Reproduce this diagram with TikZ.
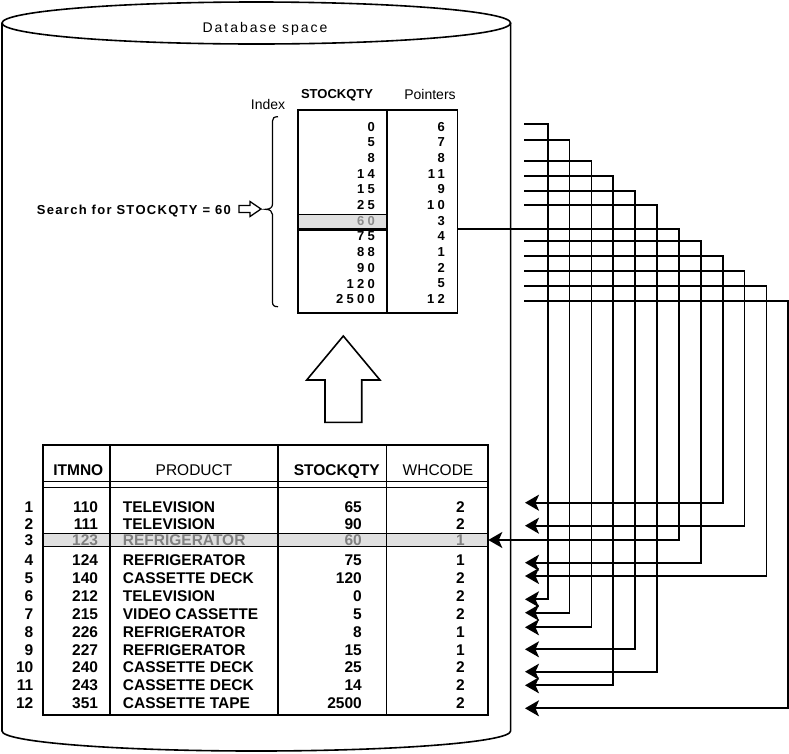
\documentclass[tikz,border=0pt]{standalone}
\usepackage{fontspec}
\setmainfont{Liberation Sans}
\usetikzlibrary{arrows.meta}
\definecolor{hl}{gray}{0.88}
\begin{document}
\begin{tikzpicture}[x=1pt,y=-1pt,
  ln/.style={line width=1.6pt},
  ptrline/.style={line width=1.8pt, arrows={-{Stealth[length=14pt,width=16pt,inset=3.5pt]}}},
  txt/.style={inner sep=0pt, text depth=0pt},
  tbody/.style={txt, font=\fontsize{15.5}{17}\selectfont\bfseries},
  thead/.style={txt, font=\fontsize{15.5}{17}\selectfont},
  theadb/.style={txt, font=\fontsize{15.5}{17}\selectfont\bfseries},
  idx/.style={txt, font=\fontsize{13}{15}\selectfont\bfseries\addfontfeatures{LetterSpace=25}},
]
\useasboundingbox (0,0) rectangle (789,753);

% cylinder
\draw[ln] (256.3,23) ellipse [x radius=254.3, y radius=21];
\draw[ln] (2,23) -- (2,731) arc[start angle=180, end angle=0, x radius=254.3, y radius=20] -- (510.6,23);
\node[txt, font=\fontsize{14}{16}\selectfont\addfontfeatures{LetterSpace=14}] (dbspace) at (265,27) {Database space};

% index box
\fill[hl] (298.3,214.5) rectangle (386.7,229.3);
\draw[line width=0.8pt] (298.3,214.5) -- (386.7,214.5);
\draw[line width=2.5pt] (298.3,229.3) -- (386.7,229.3);
\draw[line width=1.7pt] (298.3,110) rectangle (457.5,313.3);
\draw[line width=1.7pt] (386.7,110) -- (386.7,313.3);
\node[txt, font=\fontsize{13}{15}\selectfont\bfseries] (hstock) at (337,94) {STOCKQTY};
\node[txt, font=\fontsize{14}{16}\selectfont] (hptr) at (430,94) {Pointers};
\node[txt, font=\fontsize{14}{16}\selectfont] (hindex) at (268,104) {Index};
\foreach \k/\v/\pp in {1/0/6, 2/5/7, 3/8/8, 4/14/11, 5/15/9, 6/25/10, 7/60/3, 8/75/4, 9/88/1, 10/90/2, 11/120/5, 12/2500/12}{
  \pgfmathsetmacro{\yy}{126.5+(\k-1)*15.7}
  \ifnum\k=7
    \node[idx, anchor=east, text=black!45] (iv\k) at (375,\yy) {\v};
  \else
    \node[idx, anchor=east] (iv\k) at (375,\yy) {\v};
  \fi
  \node[idx, anchor=east] (ip\k) at (445,\yy) {\pp};
}

% brace and search label
\draw[line width=1.2pt] (278,116.7) .. controls (274,116.7) and (272.5,118) .. (272.5,121) -- (272.5,204)
  .. controls (272.5,207.5) and (270,209.3) .. (265.5,209.3)
  .. controls (270,209.3) and (272.5,211.5) .. (272.5,214.5) -- (272.5,302)
  .. controls (272.5,305.5) and (274,306.7) .. (278,306.7);
\node[txt, anchor=east, font=\fontsize{13}{15}\selectfont\bfseries\addfontfeatures{LetterSpace=10}] (search) at (231,210) {Search for STOCKQTY = 60};
\draw[line width=1.3pt, line join=miter] (239,205.5) -- (250,205.5) -- (250,201.5) -- (261,209) -- (250,216.5) -- (250,212.5) -- (239,212.5) -- cycle;

% big hollow arrow
\draw[line width=1.6pt, line join=miter] (325,422.3) -- (325,380) -- (306.7,380) -- (343.3,336) -- (380,380) -- (361.7,380) -- (361.7,422.3) -- cycle;

% table
\fill[hl] (43.3,533.3) rectangle (488.3,546.7);
\draw[line width=0.7pt] (43.3,533.3) -- (488.3,533.3) (43.3,546.7) -- (488.3,546.7);
\draw[line width=1.7pt] (43.3,445) rectangle (488.3,715);
\draw[line width=1.3pt] (43.3,481.7) -- (488.3,481.7) (43.3,487.3) -- (488.3,487.3);
\draw[line width=1.6pt] (110,445) -- (110,715);
\draw[line width=2.3pt] (277.7,445) -- (277.7,715);
\draw[line width=1.4pt] (386.7,445) -- (386.7,715);
\node[theadb] (titmno) at (78.3,470) {ITMNO};
\node[thead] (tprod) at (194,470) {PRODUCT};
\node[theadb] (tstock) at (336.7,470) {STOCKQTY};
\node[thead] (twh) at (438,470) {WHCODE};
\foreach \r/\it/\pr/\sq/\wh in {1/110/TELEVISION/65/2, 2/111/TELEVISION/90/2, 3/123/REFRIGERATOR/60/1, 4/124/REFRIGERATOR/75/1, 5/140/CASSETTE DECK/120/2, 6/212/TELEVISION/0/2, 7/215/VIDEO CASSETTE/5/2, 8/226/REFRIGERATOR/8/1, 9/227/REFRIGERATOR/15/1, 10/240/CASSETTE DECK/25/2, 11/243/CASSETTE DECK/14/2, 12/351/CASSETTE TAPE/2500/2}{
  \pgfmathsetmacro{\yy}{\r==3 ? 540.5 : 506.7+(\r-1)*17.87}
  \ifnum\r=3 \def\tc{black!50}\else\def\tc{black}\fi
  \node[tbody, anchor=east] (rn\r) at (33.5,\yy) {\r};
  \node[tbody, anchor=east, text=\tc] (ri\r) at (98.3,\yy) {\it};
  \node[tbody, anchor=west, text=\tc] (rp\r) at (122.7,\yy) {\pr};
  \node[tbody, anchor=east, text=\tc] (rs\r) at (362,\yy) {\sq};
  \node[tbody, anchor=east, text=\tc] (rw\r) at (465,\yy) {\wh};
}

% pointer connectors
\foreach \r/\ya in {1/502.7, 2/525.7, 4/562.7, 5/576, 6/599.3, 7/612.7, 8/627.3, 9/649.3, 10/671.7, 11/685.3, 12/708.3}{
  \coordinate (dst\r) at (525,\ya);
}
\coordinate (dst3) at (488.3,540);
\foreach \k/\p/\sx/\yl in {1/6/524/124.3, 2/7/524/140, 3/8/524/161, 4/11/524/176, 5/9/524/190.7, 6/10/524/205, 7/3/457.5/229.3, 8/4/524/240.7, 9/1/524/255.7, 10/2/524/271, 11/5/524/285.7, 12/12/524/301}{
  \coordinate (src\k) at (\sx,\yl);
  \coordinate (col\k) at ({547.7+(\k-1)*21.87},0);
  \draw[ptrline] (src\k) -- (src\k -| col\k) |- (dst\p);
}
\end{tikzpicture}
\end{document}
